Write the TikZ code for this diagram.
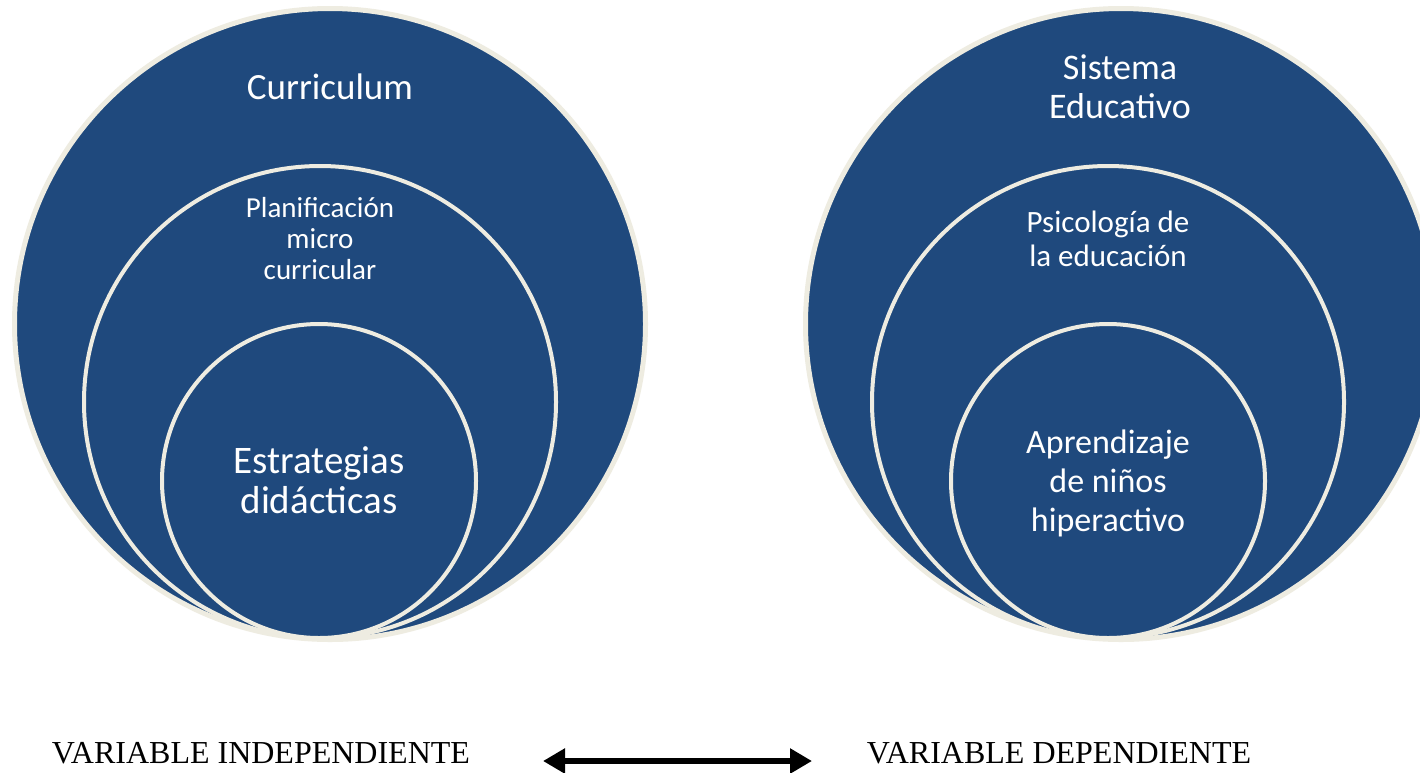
\documentclass[tikz,border=0pt]{standalone}
\usepackage{fontspec}
\setmainfont{Liberation Serif}
\newfontfamily\calfont{Carlito}
\usetikzlibrary{arrows.meta}
\definecolor{cblue}{HTML}{1F497D}
\definecolor{ccream}{HTML}{EEECE1}
\begin{document}
\begin{tikzpicture}[x=1pt,y=-1pt,
  ring/.style={circle,fill=cblue,draw=ccream,line width=4pt,inner sep=0pt},
  outerring/.style={ring,line width=5pt},
  lbl/.style={text=white,align=center,inner sep=0pt},
  varlbl/.style={font=\fontsize{32}{32}\selectfont,anchor=base,inner sep=0pt},
  biarrow/.style={line width=6pt,{Triangle[length=22pt,width=24pt]}-{Triangle[length=22pt,width=24pt]}}]
\useasboundingbox (0,0) rectangle (1420,772);
\clip (0,0) rectangle (1420,772);
\fill[white] (0,0) rectangle (1420,772);
% left set
\node[outerring,minimum size=631pt] (L1) at (330,324) {};
\node[ring,minimum size=472pt] (L2) at (320,402) {};
\node[ring,minimum size=314pt] (L3) at (319,481) {};
% right set
\node[outerring,minimum size=631pt] (R1) at (1121,324) {};
\node[ring,minimum size=472pt] (R2) at (1108,402) {};
\node[ring,minimum size=314pt] (R3) at (1108,481) {};
% labels
\node[lbl,font=\calfont\fontsize{37}{39}\selectfont] (tL1) at (330,87) {Curriculum};
\node[lbl,font=\calfont\fontsize{29}{31}\selectfont] (tL2) at (320,239) {Planificación\\micro\\curricular};
\node[lbl,font=\calfont\fontsize{39}{40}\selectfont] (tL3) at (319,480) {Estrategias\\didácticas};
\node[lbl,font=\calfont\fontsize{36}{39}\selectfont] (tR1) at (1120,87) {Sistema\\Educativo};
\node[lbl,font=\calfont\fontsize{31}{34}\selectfont] (tR2) at (1108,239) {Psicología de\\la educación};
\node[lbl,font=\calfont\fontsize{34}{39}\selectfont] (tR3) at (1108,483) {Aprendizaje\\de niños\\hiperactivo};
% bottom
\node[varlbl] (vi) at (261,763) {VARIABLE INDEPENDIENTE};
\node[varlbl] (vd) at (1059,763) {VARIABLE DEPENDIENTE};
\coordinate (al) at (543,761);
\coordinate (ar) at (812,761);
\draw[biarrow] (al) -- (ar);
\end{tikzpicture}
\end{document}
